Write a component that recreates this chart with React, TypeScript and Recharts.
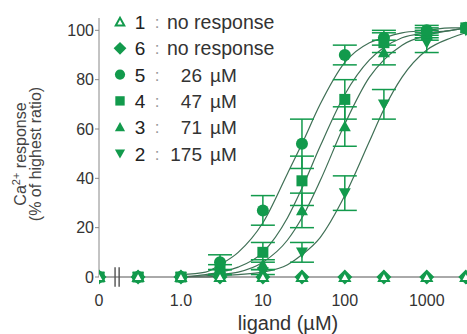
import React from 'react';
import {
  ComposedChart,
  Line,
  Scatter,
  ErrorBar,
  XAxis,
  YAxis,
  Legend,
  ReferenceLine,
} from 'recharts';

// doses in µM; 0 is drawn at the axis break
const doses = [0, 0.3, 1, 3, 10, 30, 100, 300, 1000, 3000];

const resp1 = [0, 0, 0, 0, 0, 0, 0, 0, 0, 0];
const resp6 = [0, 0, 0, 0, 0, 0, 0, 0, 0, 0];
const resp5 = [0, 0, 0, 6, 27, 54, 90, 97, 100, 101];
const err5 = [null, null, null, 3, 6, 10, 4, 3, 2, null];
const resp4 = [0, 0, 0, 3, 10, 39, 72, 95, 99, 101];
const err4 = [null, null, null, 2, 4, 10, 8, 4, 2, null];
const resp3 = [0, 0, 0, 2, 5, 27, 61, 91, 98, 101];
const err3 = [null, null, null, 1, 2, 7, 8, 5, 2, null];
const resp2 = [0, 0, 0, 0, 2, 10, 34, 70, 95, 100];
const err2 = [null, null, null, null, 1, 4, 7, 6, 4, null];

// fitted curves
const fitDoses = [1, 2, 3, 5, 10, 20, 30, 50, 100, 200, 300, 500, 1000, 2000, 3000];
const fit5 = [1, 2, 5, 10, 22, 42, 54, 70, 87, 95, 97, 99, 100, 101, 101];
const fit4 = [0, 1, 2, 4, 10, 24, 36, 53, 74, 88, 93, 97, 99, 100, 101];
const fit3 = [0, 0.5, 1, 2, 6, 15, 24, 39, 62, 81, 88, 94, 98, 100, 101];
const fit2 = [0, 0, 0.5, 1, 2, 5, 9, 16, 33, 55, 68, 81, 92, 97, 99];

const xTicks = [0.1, 1, 10, 100, 1000];
const yTicks = [0, 20, 40, 60, 80, 100];

const legendIds = ['1', '6', '5', '4', '3', '2'];
const legendEc50 = ['', '', '26', '47', '71', '175'];

const GREEN = '#129a4c';
const CURVE = '#3f6f55';
const ZERO_AT = 0.1;
const FONT = '"Liberation Sans", Arial, sans-serif';

const toPoints = (vals: number[], errs?: (number | null)[]) =>
  doses.map((d, i) => ({ x: d === 0 ? ZERO_AT : d, y: vals[i], err: errs ? errs[i] : null }));
const toCurve = (vals: number[]) => fitDoses.map((d, i) => ({ x: d, y: vals[i] }));

type Kind = 'open' | 'diamond' | 'circle' | 'square' | 'up' | 'down';

const Marker = ({ kind, cx, cy, s = 1 }: { kind: Kind; cx: number; cy: number; s?: number }) => {
  if (kind === 'circle') return <circle cx={cx} cy={cy} r={6 * s} fill={GREEN} />;
  if (kind === 'square') {
    const h = 5.5 * s;
    return <rect x={cx - h} y={cy - h} width={2 * h} height={2 * h} fill={GREEN} />;
  }
  if (kind === 'diamond') {
    const h = 7.5 * s;
    return <polygon points={`${cx},${cy - h} ${cx + h},${cy} ${cx},${cy + h} ${cx - h},${cy}`} fill={GREEN} />;
  }
  if (kind === 'down') {
    const h = 6 * s;
    return <polygon points={`${cx - h},${cy - h * 0.8} ${cx + h},${cy - h * 0.8} ${cx},${cy + h}`} fill={GREEN} />;
  }
  if (kind === 'up') {
    const h = 6 * s;
    return <polygon points={`${cx - h},${cy + h * 0.8} ${cx + h},${cy + h * 0.8} ${cx},${cy - h}`} fill={GREEN} />;
  }
  const h = 5 * s;
  return (
    <polygon
      points={`${cx - h},${cy + h * 0.8} ${cx + h},${cy + h * 0.8} ${cx},${cy - h}`}
      fill="#fff"
      stroke={GREEN}
      strokeWidth={2}
    />
  );
};

const shapeOf = (kind: Kind) => (p: any) => <Marker kind={kind} cx={p.cx} cy={p.cy} />;

const legendKinds: Kind[] = ['open', 'diamond', 'circle', 'square', 'up', 'down'];

const LegendBox = () => (
  <svg width={220} height={160} style={{ fontFamily: FONT }}>
    {legendIds.map((id, i) => {
      const y = 17 + i * 26.3;
      return (
        <g key={id}>
          <Marker kind={legendKinds[i]} cx={20} cy={y} s={0.85} />
          <text x={40} y={y + 7} textAnchor="middle" fontSize={19} fill="#222">{id}</text>
          <text x={57} y={y + 6} textAnchor="middle" fontSize={17} fill="#999">:</text>
          {legendEc50[i] === '' ? (
            <text x={67} y={y + 7} fontSize={19.5} fill="#333">no response</text>
          ) : (
            <>
              <text x={102} y={y + 7} textAnchor="end" fontSize={19} fill="#333">{legendEc50[i]}</text>
              <text x={110} y={y + 7} fontSize={19} fill="#333">µM</text>
            </>
          )}
        </g>
      );
    })}
  </svg>
);

const YTitle = () => (
  <g fontFamily={FONT} fill="#444" fontSize={16}>
    <text x={26} y={154} textAnchor="middle" transform="rotate(-90, 26, 154)">
      Ca<tspan dy={-6} fontSize={11}>2+</tspan>
      <tspan dy={6}> response</tspan>
    </text>
    <text x={41} y={154} textAnchor="middle" transform="rotate(-90, 41, 154)">
      (% of highest ratio)
    </text>
  </g>
);

const fmtX = (v: number) => (v === ZERO_AT ? '0' : v === 1 ? '1.0' : String(v));

export default function App() {
  return (
    <div style={{ position: 'absolute', left: 0, top: 0, background: '#fff' }}>
      <ComposedChart width={467} height={334} margin={{ top: 18, right: 0, left: 0, bottom: 0 }}>
        <XAxis
          type="number"
          dataKey="x"
          scale="log"
          domain={[ZERO_AT, 3100]}
          ticks={xTicks}
          tickFormatter={fmtX}
          allowDataOverflow
          height={57}
          tickLine={false}
          tickMargin={12}
          axisLine={{ stroke: '#555' }}
          tick={{ fontSize: 16, fill: '#333', fontFamily: FONT }}
          label={{ value: 'ligand (µM)', position: 'insideBottom', offset: 4, dx: 5, fontSize: 20, fill: '#333', fontFamily: FONT }}
        />
        <YAxis
          type="number"
          dataKey="y"
          domain={[0, 105]}
          ticks={yTicks}
          width={99}
          tickSize={4}
          tickMargin={1}
          axisLine={{ stroke: '#888' }}
          tickLine={{ stroke: '#888' }}
          tick={{ fontSize: 16, fill: '#333', fontFamily: FONT }}
          label={{ content: () => <YTitle /> }}
        />
        <Legend
          layout="vertical"
          align="center"
          verticalAlign="middle"
          wrapperStyle={{ left: 100, top: 5, width: 220 }}
          content={() => <LegendBox />}
        />
        <ReferenceLine
          segment={[{ x: 0.157, y: -4 }, { x: 0.157, y: 4 }]}
          stroke="#333"
          strokeWidth={1.2}
          ifOverflow="visible"
        />
        <ReferenceLine
          segment={[{ x: 0.176, y: -4 }, { x: 0.176, y: 4 }]}
          stroke="#333"
          strokeWidth={1.2}
          ifOverflow="visible"
        />
        {[fit5, fit4, fit3, fit2].map((f, i) => (
          <Line
            key={`fit${i}`}
            data={toCurve(f)}
            dataKey="y"
            type="monotone"
            stroke={CURVE}
            strokeWidth={1.2}
            dot={false}
            isAnimationActive={false}
          />
        ))}
        <Scatter data={toPoints(resp2, err2)} dataKey="y" shape={shapeOf('down')} isAnimationActive={false}>
          <ErrorBar dataKey="err" direction="y" width={12} stroke={GREEN} strokeWidth={1.5} />
        </Scatter>
        <Scatter data={toPoints(resp3, err3)} dataKey="y" shape={shapeOf('up')} isAnimationActive={false}>
          <ErrorBar dataKey="err" direction="y" width={12} stroke={GREEN} strokeWidth={1.5} />
        </Scatter>
        <Scatter data={toPoints(resp4, err4)} dataKey="y" shape={shapeOf('square')} isAnimationActive={false}>
          <ErrorBar dataKey="err" direction="y" width={12} stroke={GREEN} strokeWidth={1.5} />
        </Scatter>
        <Scatter data={toPoints(resp5, err5)} dataKey="y" shape={shapeOf('circle')} isAnimationActive={false}>
          <ErrorBar dataKey="err" direction="y" width={12} stroke={GREEN} strokeWidth={1.5} />
        </Scatter>
        <Scatter data={toPoints(resp6)} dataKey="y" shape={shapeOf('diamond')} isAnimationActive={false} />
        <Scatter data={toPoints(resp1)} dataKey="y" shape={shapeOf('open')} isAnimationActive={false} />
      </ComposedChart>
    </div>
  );
}
